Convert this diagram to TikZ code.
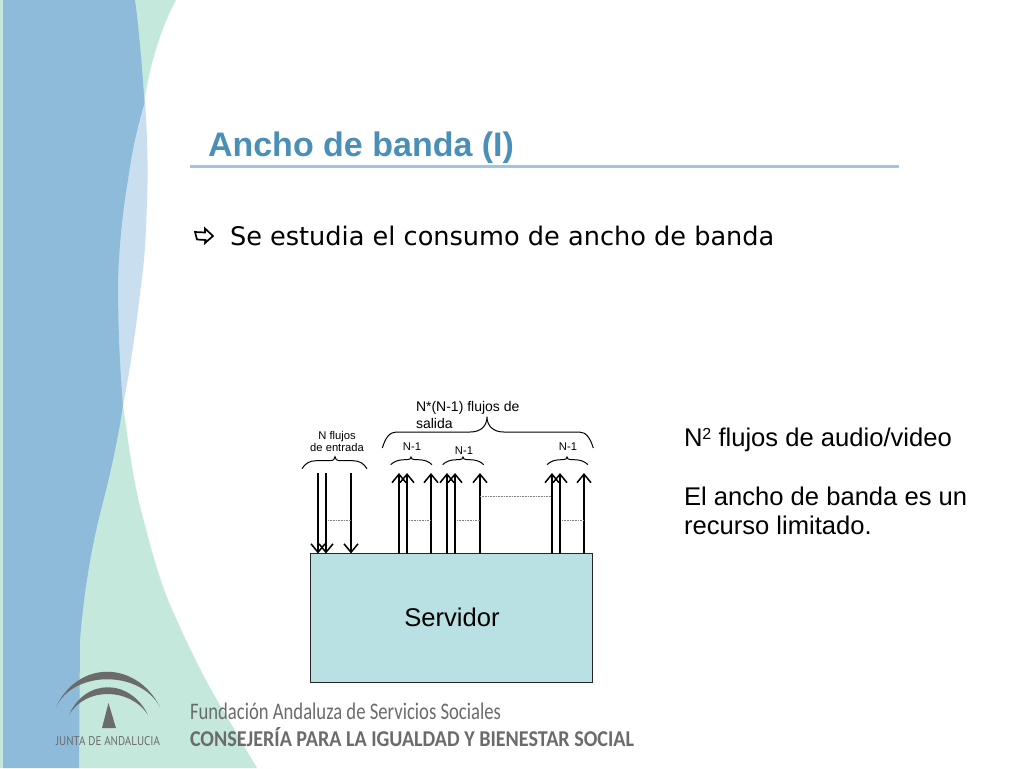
\documentclass[tikz,border=0pt]{standalone}
\usepackage{fontspec}
\usepackage{graphicx}
\setmainfont{Liberation Sans}
\newfontfamily\verdanalike{DejaVu Sans}
\newfontfamily\footfont{Carlito}
\newfontfamily\juntafont{PT Sans}
\usetikzlibrary{arrows.meta,calc}
\definecolor{bandblue}{HTML}{8EBBD9}
\definecolor{bandgreen}{HTML}{C5E8DC}
\definecolor{bandlight}{HTML}{C9DFEF}
\definecolor{titleblue}{HTML}{4A8FB8}
\definecolor{ruleblue}{HTML}{9CC6E4}
\definecolor{serverfill}{HTML}{B9E0E3}
\definecolor{logogray}{HTML}{6B6B6B}
\newcommand{\fsz}[1]{\fontsize{#1pt}{1.17\dimexpr#1pt\relax}\selectfont}
\newcommand{\bracepath}[6]{% xl xm xr yend ybody ytip
  \draw[bracket] (#1,#4) .. controls ({#1+3},{#5+(#4-#5)*0.4}) and ({#1+7},#5) .. ({#1+14},#5)
    -- ({#2-(#5-#6)-1.5},#5) .. controls ({#2-(#5-#6)*0.4},#5) and (#2,{#5-(#5-#6)*0.4}) .. (#2,#6)
    .. controls (#2,{#5-(#5-#6)*0.4}) and ({#2+(#5-#6)*0.4},#5) .. ({#2+(#5-#6)+1.5},#5)
    -- ({#3-14},#5) .. controls ({#3-7},#5) and ({#3-3},{#5+(#4-#5)*0.4}) .. (#3,#4);}
\tikzset{
  flow/.style={line width=1.5pt,black,-{Straight Barb[length=8.5pt,width=14pt,line width=1.5pt]}},
  dotsline/.style={line width=1pt,gray,line cap=butt,dash pattern=on 1pt off 0.6pt},
  bracket/.style={line width=1pt,black},
  lbl/.style={inner sep=0pt,outer sep=0pt,align=left,text=black},
  sm/.style={lbl,font=\fsz{11.2}},
  big/.style={lbl,font=\fsz{25.6},anchor=base west},
  foot/.style={inner sep=0pt,outer sep=0pt,text=logogray,anchor=base west},
}
\begin{document}
\begin{tikzpicture}[x=1pt,y=-1pt]
\useasboundingbox (0,0) rectangle (1024,768);
\fill[white] (0,0) rectangle (1024,768);
% background bands
\fill[bandgreen] (0,0) rectangle (3,768);
\fill[bandgreen] (135,0) -- (176,0) .. controls (160,30) and (150,65) .. (144.5,100)
  -- (123,405) .. controls (128,440) and (133,480) .. (141,510)
  .. controls (150,545) and (158,575) .. (168,600)
  .. controls (185,640) and (205,680) .. (217,700) -- (257,768) -- (79,768) -- (79,500) -- cycle;
\fill[bandlight] (144.5,95) .. controls (148,140) and (148,180) .. (147,200)
  .. controls (146,240) and (144,265) .. (141,285) .. controls (136,330) and (130,370) .. (123,405)
  -- (110,405) -- (110,95) -- cycle;
\fill[bandblue] (3,0) -- (135,0) .. controls (139,30) and (142,65) .. (144.5,103)
  .. controls (138,125) and (132,150) .. (128,180)
  .. controls (122,215) and (119,250) .. (118,280)
  .. controls (118,330) and (120,370) .. (123,405)
  .. controls (118,440) and (110,475) .. (101,510)
  .. controls (92,545) and (84,590) .. (80,640)
  -- (79,768) -- (3,768) -- cycle;
% logo
\fill[logogray] (56,707) .. controls (78,660) and (136,660) .. (160,707)
  .. controls (140,670) and (74,670) .. cycle;
\fill[logogray] (69,715) .. controls (85,678) and (130,678) .. (148,715)
  .. controls (130,687) and (85,687) .. cycle;
\fill[logogray] (108.5,703) -- (116,728) -- (102,728) -- cycle;
\node[foot,anchor=center] (junta) at (108,741) {\resizebox{104pt}{9pt}{\juntafont JUNTA DE ANDALUCIA}};
\node[foot] (fund) at (190,719) {\resizebox{311pt}{16.5pt}{\footfont\fsz{21}Fundación Andaluza de Servicios Sociales}};
\node[foot] (cons) at (190,746) {\resizebox{444pt}{19pt}{\footfont\fsz{21}\bfseries CONSEJERÍA PARA LA IGUALDAD Y BIENESTAR SOCIAL}};
% title
\node[lbl,anchor=base west,text=titleblue,font=\fsz{34}\bfseries] (title) at (208,156) {Ancho de banda (I)};
\coordinate (ruleL) at (190,166);
\coordinate (ruleR) at (899,166);
\draw[ruleblue,line width=3pt] (ruleL) -- (ruleR);
% bullet
\draw[black,line width=1.7pt,fill=white,line join=miter] (195,232) -- (205,232.5) -- (205,228.5) -- (213,236) -- (205,243) -- (205.5,240) -- (197,239.5) -- cycle;
\node[lbl,anchor=base west,font=\fsz{25.6}\verdanalike] (bullet) at (230,245) {Se estudia el consumo de ancho de banda};
% server
\node[draw=black!85,fill=serverfill,line width=1pt,minimum width=282pt,minimum height=128.5pt,inner sep=0pt,outer sep=0pt,anchor=north west,font=\fsz{25.6}] (server) at (310.5,553.5) {\raisebox{-3pt}{\hspace{1pt}Servidor}};
% flow coordinates
\coordinate (lo) at (0,520.5);
\coordinate (hi) at (0,496.5);
\foreach \n/\x in {d1/318,d2/326,d3/351,a1/399,a2/407,a3/431,b1/447,b2/455,b3/480,c1/552,c2/560,c3/584}
  \coordinate (\n) at (\x,473);
\foreach \n in {d1,d2,d3}
  \draw[flow] (\n) -- (\n |- server.north);
\foreach \n in {a1,a2,a3,b1,b2,b3,c1,c2,c3}
  \draw[flow] (\n |- server.north) -- (\n);
\draw[dotsline] (d2 |- lo) ++(2,0) -- (d3 |- lo);
\draw[dotsline] (a2 |- lo) ++(2,0) -- (a3 |- lo);
\draw[dotsline] (b2 |- lo) ++(2,0) -- (b3 |- lo);
\draw[dotsline] (c2 |- lo) ++(2,0) -- (c3 |- lo);
\draw[dotsline] (b3 |- hi) -- (c1 |- hi);
% braces
\bracepath{302}{335}{367}{468.7}{460.7}{456.7}
\bracepath{390.7}{411}{432}{464.7}{459.7}{457}
\bracepath{442.7}{463}{483.7}{464.7}{459.7}{457}
\bracepath{547}{567}{588}{464.7}{459.7}{457}
\bracepath{382.3}{487}{593.3}{448}{432}{416.7}
% small labels
\node[sm,anchor=base] (nin) at (337,439) {N flujos};
\node[sm,anchor=base] (nin2) at (337,451.5) {de entrada};
\node[sm,anchor=center] (n1) at (412,447) {N-1};
\node[sm,anchor=center] (n2) at (464,450.5) {N-1};
\node[sm,anchor=center] (n3) at (568,447) {N-1};
\node[lbl,anchor=base west,font=\fsz{14}] (nout) at (416,411) {N*(N-1) flujos de};
\node[lbl,anchor=base west,font=\fsz{14}] (nout2) at (416,428) {salida};
% right text
\node[big] (t1) at (684,446) {N\raisebox{7pt}{\fsz{16}2} flujos de audio/video};
\node[big] (t2) at (684,505) {El ancho de banda es un};
\node[big] (t3) at (684,534) {recurso limitado.};
\end{tikzpicture}
\end{document}
